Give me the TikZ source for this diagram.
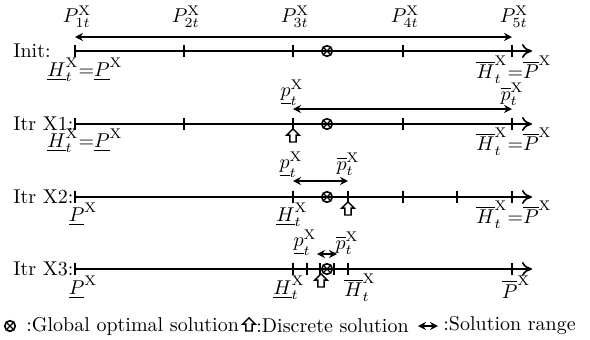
\documentclass[tikz,border=0pt]{standalone}
\usetikzlibrary{arrows.meta,shapes.arrows}
\begin{document}
\begin{tikzpicture}[x=0.5pt,y=-0.5pt,
  axis/.style={line width=0.8pt,-{To[length=5pt,width=7pt]}},
  rng/.style={line width=0.8pt,{Stealth[length=4pt,width=4pt]}-{Stealth[length=4pt,width=4pt]}},
  tk/.style={line width=0.8pt},
  lbl/.style={inner sep=0pt},
  row/.style={inner sep=0pt,anchor=west},
  optim/.style={circle,draw,line width=0.8pt,inner sep=0pt,minimum size=5.3pt,
    path picture={\draw[line width=0.6pt] (path picture bounding box.north west) -- (path picture bounding box.south east)
      (path picture bounding box.north east) -- (path picture bounding box.south west);}},
  disc/.style={single arrow,draw,line width=0.7pt,rotate=90,inner sep=1.2pt,
    minimum height=6.5pt,minimum width=5.5pt,single arrow head extend=1.5pt}
]
\useasboundingbox (0,0) rectangle (590,339);
\newcommand{\tickat}[1]{\draw[tk] ([yshift=3pt]#1) -- ([yshift=-3pt]#1);}
\def\X{\mathrm{X}}
% ---------- Init ----------
\node[row] (linit) at (13,51) {Init:};
\coordinate (a0) at (75,51);
\coordinate (a1) at (184,51);
\coordinate (a2) at (293,51);
\coordinate (a3) at (403,51);
\coordinate (a4) at (512,51);
\coordinate (aend) at (532,51);
\draw[axis] (a0) -- (aend);
\foreach \c in {a0,a1,a2,a3,a4} {\tickat{\c}}
\node[optim] (ao) at (327,51) {};
\node[lbl] (p1) at (77,17) {$P_{1t}^{\X}$};
\node[lbl] (p2) at (186,17) {$P_{2t}^{\X}$};
\node[lbl] (p3) at (295,17) {$P_{3t}^{\X}$};
\node[lbl] (p4) at (405,17) {$P_{4t}^{\X}$};
\node[lbl] (p5) at (514,17) {$P_{5t}^{\X}$};
\coordinate (ta) at (75,37);
\coordinate (tb) at (512,37);
\draw[rng] (ta) -- (tb);
\node[lbl] (al) at (85,70) {$\underline{H}_t^{\X}{=}\underline{P}^{\X}$};
\node[lbl] (ar) at (514,70) {$\overline{H}_t^{\X}{=}\overline{P}^{\X}$};
% ---------- Itr X1 ----------
\node[row] (lx1) at (13,124) {Itr X1:};
\coordinate (b0) at (75,124);
\coordinate (b1) at (184,124);
\coordinate (b2) at (293,124);
\coordinate (b3) at (403,124);
\coordinate (b4) at (512,124);
\coordinate (bend) at (532,124);
\draw[axis] (b0) -- (bend);
\foreach \c in {b0,b1,b2,b3,b4} {\tickat{\c}}
\node[optim] (bo) at (327,124) {};
\coordinate (ba) at (293,109);
\coordinate (bb) at (512,109);
\draw[rng] (ba) -- (bb);
\node[lbl] (bpl) at (292,93) {$\underline{p}_t^{\X}$};
\node[lbl] (bpu) at (512,94) {$\overline{p}_t^{\X}$};
\node[lbl] (bl) at (85,141) {$\underline{H}_t^{\X}{=}\underline{P}^{\X}$};
\node[lbl] (br) at (514,142) {$\overline{H}_t^{\X}{=}\overline{P}^{\X}$};
\node[disc] (bd) at (293,137) {};
% ---------- Itr X2 ----------
\node[row] (lx2) at (13,197) {Itr X2:};
\coordinate (c0) at (75,197);
\coordinate (c1) at (293,197);
\coordinate (c2) at (348,197);
\coordinate (c3) at (403,197);
\coordinate (c4) at (457,197);
\coordinate (c5) at (512,197);
\coordinate (cend) at (532,197);
\draw[axis] (c0) -- (cend);
\foreach \c in {c0,c1,c2,c3,c4,c5} {\tickat{\c}}
\node[optim] (co) at (327,197) {};
\coordinate (ca) at (293,181);
\coordinate (cb) at (348,181);
\draw[rng] (ca) -- (cb);
\node[lbl] (cpl) at (291,165) {$\underline{p}_t^{\X}$};
\node[lbl] (cpu) at (348,164) {$\overline{p}_t^{\X}$};
\node[lbl] (cl) at (83,214) {$\underline{P}^{\X}$};
\node[lbl] (cm) at (292,215) {$\underline{H}_t^{\X}$};
\node[lbl] (cr) at (514,215) {$\overline{H}_t^{\X}{=}\overline{P}^{\X}$};
\node[disc] (cd) at (348,210) {};
% ---------- Itr X3 ----------
\node[row] (lx3) at (13,269) {Itr X3:};
\coordinate (d0) at (75,269);
\coordinate (d1) at (293,269);
\coordinate (d2) at (307,269);
\coordinate (d3) at (320,269);
\coordinate (d4) at (334,269);
\coordinate (d5) at (348,269);
\coordinate (d6) at (512,269);
\coordinate (dend) at (532,269);
\draw[axis] (d0) -- (dend);
\foreach \c in {d0,d1,d2,d3,d4,d5,d6} {\tickat{\c}}
\node[optim] (do) at (327,269) {};
\coordinate (da) at (317,254);
\coordinate (db) at (337,254);
\draw[rng] (da) -- (db);
\node[lbl] (dpl) at (305,243) {$\underline{p}_t^{\X}$};
\node[lbl] (dpu) at (347,243) {$\overline{p}_t^{\X}$};
\node[lbl] (dl) at (83,287) {$\underline{P}^{\X}$};
\node[lbl] (dm) at (289,288) {$\underline{H}_t^{\X}$};
\node[lbl] (dn) at (360,288) {$\overline{H}_t^{\X}$};
\node[lbl] (dr) at (516,287) {$\overline{P}^{\X}$};
\node[disc] (dd) at (321,282) {};
% ---------- Legend ----------
\node[optim] (go) at (10,326) {};
\node[row] (gt1) at (26,326) {:Global optimal solution};
\node[disc] (gd) at (249,326) {};
\node[row] (gt2) at (256,326) {:Discrete solution};
\coordinate (ga) at (418,326);
\coordinate (gb) at (438,326);
\draw[rng] (ga) -- (gb);
\node[row] (gt3) at (443,326) {:Solution range};
\end{tikzpicture}
\end{document}
